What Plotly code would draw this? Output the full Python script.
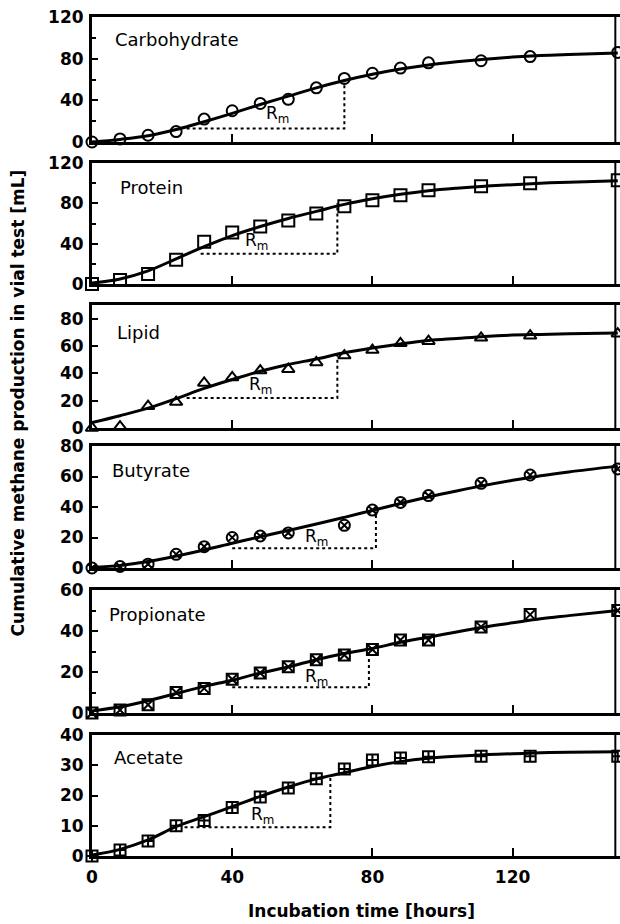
import plotly.graph_objects as go

# ---------------- data ----------------
time_h = [0, 8, 16, 24, 32, 40, 48, 56, 64, 72, 80, 88, 96, 111, 125, 150]
fit_t = [0, 8, 16, 24, 32, 40, 48, 56, 64, 72, 80, 88, 96, 104, 112, 120, 128, 136, 150]

panel_names = ["Carbohydrate", "Protein", "Lipid", "Butyrate", "Propionate", "Acetate"]

carb_obs = [0, 3, 6.5, 10, 22, 30, 37, 41, 52, 61, 66, 71, 76, 78, 82, 86]
carb_fit = [0, 2.5, 6, 12, 19.5, 27.5, 36, 44, 52, 59, 65, 70, 74, 77, 79.5, 81.5, 83, 84, 85.5]

prot_obs = [0, 4, 10, 24, 42, 51, 57, 63, 70, 77, 83, 88, 93, 97, 100, 103]
prot_fit = [1, 5, 13, 25, 37, 48, 57, 65, 72, 79, 84.5, 89, 92.5, 95, 97, 98.5, 100, 101, 102.5]

lipid_obs = [0, 1, 16, 19, 33, 37, 42, 43, 48, 53, 57, 62, 63.5, 66, 67.5, 69]
lipid_fit = [4, 9, 14.5, 21.5, 29, 35.5, 41.5, 46.5, 50.5, 55, 58.5, 61.5, 64, 65.5, 67, 68, 68.5, 69, 69.5]

buty_obs = [0, 1, 2.5, 9, 14, 20, 21, 23, None, 28, 38, 43, 47.5, 55.5, 61, 65]
buty_fit = [0.5, 1.7, 4.2, 7.8, 11.8, 16.2, 20.5, 24.6, 28.8, 33.2, 37.8, 42.3, 46.6, 50.5, 54.2, 57.5, 60.5, 63, 66.8]

prop_obs = [0, 1.5, 4, 10, 12, 16.5, 19.5, 22.5, 26, 28.3, 31, 35.6, 35.6, 42, 48, 50]
prop_fit = [1, 3, 6, 9.5, 13, 16, 19.5, 22.5, 26, 29, 31.5, 34.5, 37, 39.5, 42, 44, 46, 47.5, 50]

acet_obs = [0, 2, 5, 10, 11.7, 16, 19.5, 22.5, 25.5, 28.8, 31.7, 32.4, 32.8, 33, 33, 33]
acet_fit = [0.3, 2.2, 5.3, 9.7, 13, 16.3, 19.7, 22.8, 25.5, 27.5, 29.6, 31.2, 32.3, 33, 33.5, 33.8, 34.1, 34.3, 34.5]

# R_m construction: start x, end x, level y, top y
rm_x0 = [27, 31, 27, 40, 40, 26.4]
rm_x1 = [72, 70, 70, 81, 79, 68]
rm_y0 = [13, 30, 22, 13, 12.5, 9.5]
rm_y1 = [61, 80, 54.5, 37, 30.5, 26]
rm_label_x = [53, 47, 48, 64, 64, 48.5]
rm_label_y = [26, 42, 31, 20, 17.5, 13.5]

y_max = [120, 120, 90, 80, 60, 40]
y_tickvals = [[0, 40, 80, 120], [0, 40, 80, 120], [0, 20, 40, 60, 80],
              [0, 20, 40, 60, 80], [0, 20, 40, 60], [0, 10, 20, 30, 40]]
y_minor = [20, 20, None, None, 10, None]
x_ticks = [0, 40, 80, 120]
x_frame_end = 149.3

observed = [carb_obs, prot_obs, lipid_obs, buty_obs, prop_obs, acet_obs]
fitted = [carb_fit, prot_fit, lipid_fit, buty_fit, prop_fit, acet_fit]

# ---------------- styling ----------------
symbols = ["circle-open", "square-open", "triangle-up-open",
           "circle-x-open", "square-x-open", "square-cross-open"]
msizes = [11, 12, 11, 11, 11, 11]
name_pos = [(6, 98), (7.4, 96), (6.5, 70), (5, 64), (4.3, 48), (5.7, 32.4)]

W, H = 626, 924           # slightly wider than the 620 window: right side cut off like the reference
ML, MR, MT, MB = 92, 0, 17, 68
panel_px = [(17, 142), (163, 284), (305, 428), (446, 568), (590, 713), (735, 856)]
ph = H - MT - MB
pw = W - ML - MR
px_per_hour = 3.525
x_end = pw / px_per_hour


def dom(top, bot):
    return [(H - MB - bot) / ph, (H - MB - top) / ph]


BOLD = "DejaVu Sans"
fig = go.Figure()
layout = dict(width=W, height=H, margin=dict(l=ML, r=MR, t=MT, b=MB),
              plot_bgcolor="white", paper_bgcolor="white", showlegend=False)
annotations = []
shapes = []
tickfont = dict(family=BOLD, size=17, color="black", weight="bold")

for i in range(6):
    n = i + 1
    xa = "x" if n == 1 else f"x{n}"
    ya = "y" if n == 1 else f"y{n}"

    fig.add_trace(go.Scatter(
        x=[rm_x0[i], rm_x1[i], rm_x1[i]], y=[rm_y0[i], rm_y0[i], rm_y1[i]],
        mode="lines", line=dict(color="black", width=2, dash="dot"),
        xaxis=xa, yaxis=ya, cliponaxis=False, hoverinfo="skip"))
    fig.add_trace(go.Scatter(
        x=fit_t, y=fitted[i], mode="lines", line=dict(color="black", width=3, shape="spline"),
        xaxis=xa, yaxis=ya, cliponaxis=False))
    fig.add_trace(go.Scatter(
        x=time_h, y=observed[i], mode="markers",
        marker=dict(symbol=symbols[i], size=msizes[i], color="black",
                    line=dict(color="black", width=2)),
        xaxis=xa, yaxis=ya, cliponaxis=False))

    yax = dict(domain=dom(*panel_px[i]), range=[0, y_max[i]], anchor=xa,
               tickvals=y_tickvals[i], ticks="inside", ticklen=6, tickwidth=2, tickcolor="black",
               showline=True, linewidth=3, linecolor="black", mirror=True,
               showgrid=False, zeroline=False, ticklabelstandoff=2, tickfont=tickfont)
    if y_minor[i]:
        yax["minor"] = dict(ticks="inside", ticklen=4, tickwidth=2, tickcolor="black",
                            dtick=y_minor[i], showgrid=False)
    xax = dict(domain=[0, 1], range=[0, x_end], anchor=ya,
               tickvals=x_ticks, ticks="inside", ticklen=8, tickwidth=2, tickcolor="black",
               showline=True, linewidth=3, linecolor="black", mirror=True,
               showgrid=False, zeroline=False, showticklabels=(n == 6), tickfont=tickfont,
               ticklabelstandoff=4)
    if n != 1:
        xax["matches"] = "x"
    layout["xaxis" if n == 1 else f"xaxis{n}"] = xax
    layout["yaxis" if n == 1 else f"yaxis{n}"] = yax

    shapes.append(dict(type="line", xref=xa, yref=f"{ya} domain", x0=x_frame_end, x1=x_frame_end,
                       y0=0, y1=1, line=dict(color="black", width=2)))

    annotations.append(dict(x=name_pos[i][0], y=name_pos[i][1], xref=xa, yref=ya,
                            text=panel_names[i], showarrow=False, xanchor="left", yanchor="middle",
                            font=dict(family="DejaVu Sans", size=18, color="black")))
    annotations.append(dict(x=rm_label_x[i], y=rm_label_y[i], xref=xa, yref=ya,
                            text="R<sub>m</sub>", showarrow=False, xanchor="center", yanchor="middle",
                            font=dict(family="DejaVu Sans", size=17, color="black")))

annotations.append(dict(x=(363 - ML) / pw, y=(H - MB - 911) / ph, xref="paper", yref="paper",
                        xanchor="center", yanchor="middle",
                        text="Incubation time [hours]", showarrow=False,
                        font=dict(family=BOLD, size=17, color="black", weight="bold")))
annotations.append(dict(x=(18 - ML) / pw, y=(H - MB - 403) / ph, xref="paper", yref="paper",
                        xanchor="center", yanchor="middle",
                        text="Cumulative methane production in vial test [mL]", showarrow=False,
                        textangle=-90,
                        font=dict(family=BOLD, size=17, color="black", weight="bold")))
layout["annotations"] = annotations
layout["shapes"] = shapes
fig.update_layout(**layout)

fig.write_html("out.html", config={"displayModeBar": False},
               post_script="document.body.style.margin='0';document.body.style.overflow='hidden';")
